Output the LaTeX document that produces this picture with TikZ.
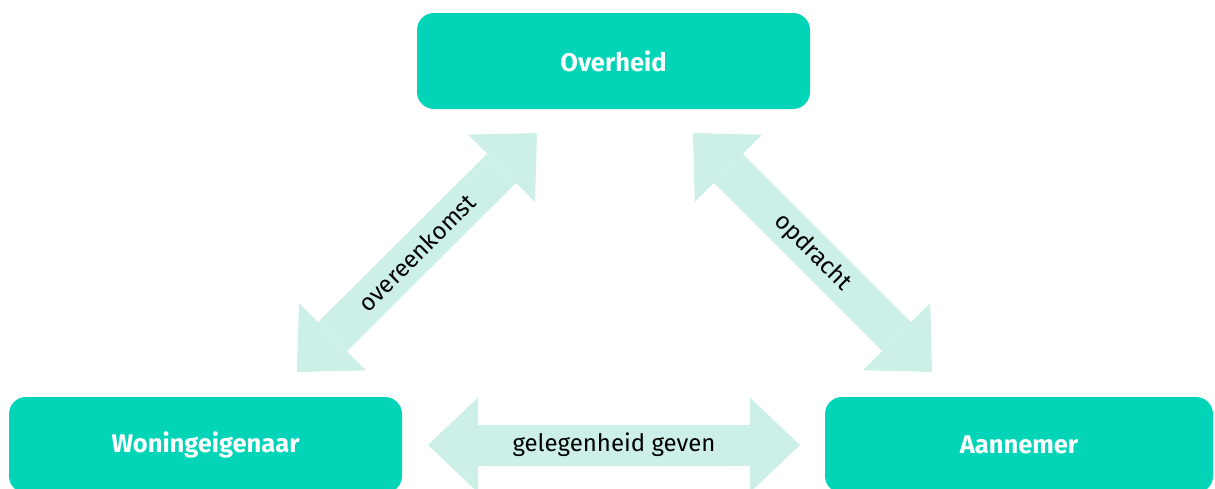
\documentclass[tikz,border=0pt]{standalone}
\usepackage{fontspec}
\setmainfont{Fira Sans}
\usetikzlibrary{arrows.meta}
\definecolor{boxgreen}{HTML}{02D4B8}
\definecolor{arrowmint}{HTML}{CCF0E8}

\begin{document}
\begin{tikzpicture}[x = 1pt, y = -1pt,
	party/.style = {fill = boxgreen, text = white, font = \fontsize{25.5}{30}\selectfont\bfseries,
		rounded corners = 17pt, minimum width = 393pt, minimum height = 96pt, inner sep = 0pt},
	relation/.style = {draw = arrowmint, line width = 41pt,
		{Triangle[length = 50pt, width = 95pt, line width = 0pt]}-{Triangle[length = 50pt, width = 95pt, line width = 0pt]}},
	rellabel/.style = {font = \fontsize{24}{29}\selectfont, text = black}]
	\useasboundingbox (0,0) rectangle (1215,488);
	
	% parties
	\node[party] (overheid) at (613.5,61) {Overheid};
	\node[party] (woning) at (205.5,445) {Woningeigenaar};
	\node[party, minimum width = 388pt] (aannemer) at (1019,445) {Aannemer};
	
	% arrow ends
	\coordinate (wo) at (297,372);
	\coordinate (ow) at (537,133);
	\coordinate (oa) at (693,133);
	\coordinate (ao) at (932,372);
	\coordinate (wa) at (428,445);
	\coordinate (aw) at (800,445);
	
	% relations
	\draw[relation] (wo) -- (ow) node[midway, sloped, rellabel] {overeenkomst};
	\draw[relation] (oa) -- (ao) node[midway, sloped, rellabel] {opdracht};
	\draw[relation] (wa) -- (aw) node[midway, rellabel] {gelegenheid geven};
	
\end{tikzpicture}
\end{document}
